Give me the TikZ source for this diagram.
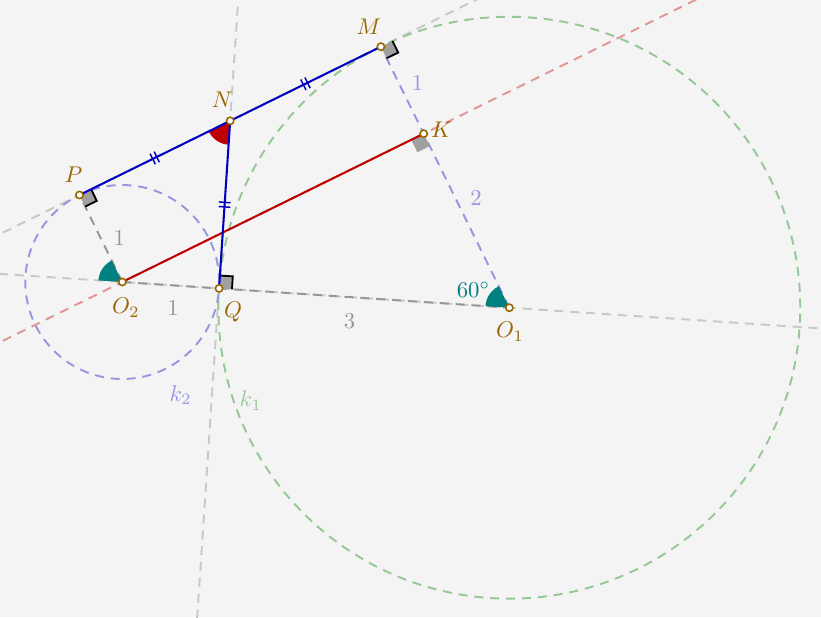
\documentclass[tikz,border=0pt]{standalone}
\usepackage{tikz}
\usetikzlibrary{calc,angles,decorations.markings}
\definecolor{bgcol}{RGB}{244,244,244}
\definecolor{ptcol}{RGB}{153,102,0}
\definecolor{mydarkblue}{RGB}{0,0,190}
\definecolor{mydarkred}{RGB}{190,0,0}
\definecolor{myteal}{RGB}{0,128,128}
\definecolor{mylav}{RGB}{150,150,225}
\definecolor{mygreen}{RGB}{150,200,150}
\definecolor{lgray}{RGB}{200,200,200}
\definecolor{mgray}{RGB}{150,150,150}
\definecolor{lred}{RGB}{225,150,150}
\definecolor{sqgray}{RGB}{160,160,160}
\newcommand{\rtmark}[4][black]{%
  \coordinate (ra) at ($(#2)!0.2cm!(#3)$);
  \coordinate (rb) at ($(#2)!0.2cm!(#4)$);
  \coordinate (rc) at ($(ra)+(rb)-(#2)$);
  \fill[sqgray] (#2) -- (ra) -- (rc) -- (rb) -- cycle;
  \draw[#1,line width=0.8pt] (ra) -- (rc) -- (rb);}

\begin{document}
\begin{tikzpicture}[x=1.5cm,y=1.5cm,
    dsh/.style={dash pattern=on 4pt off 3pt,line width=0.85pt},
    pt/.style={circle,draw=ptcol,fill=white,line width=0.7pt,inner sep=0pt,minimum size=3.2pt},
    ptlab/.style={text=ptcol},
    dbltick/.style={postaction={decorate},decoration={markings,mark=at position 0.5 with {\draw[mydarkblue,line width=0.65pt] (-1pt,-2.6pt) -- (-1pt,2.6pt) (1pt,-2.6pt) -- (1pt,2.6pt);}}}]
    \useasboundingbox (-1.261,-3.455) rectangle (7.205,2.908);
    \fill[bgcol] (-1.261,-3.455) rectangle (7.205,2.908);
    \clip (-1.261,-3.455) rectangle (7.205,2.908);
    \coordinate (O2) at (0,0);
    \coordinate (O1) at (-3.8:4);
    \coordinate (Q) at (-3.8:1);
    \coordinate (P) at (116.2:1);
    \coordinate (K) at ($(O1)+(116.2:2)$);
    \coordinate (M) at ($(O1)+(116.2:3)$);
    \coordinate (N) at ($(P)!0.5!(M)$);
    \coordinate (W) at ($(O2)!-1!(O1)$);
    \coordinate (Mx) at ($(M)!-1!(P)$);
    % long lines
    \draw[lgray,dsh] ($(O2)!-2!(O1)$) -- ($(O1)!-2!(O2)$);
    \draw[lgray,dsh] ($(N)!-20!(Q)$) -- ($(Q)!-20!(N)$);
    \draw[lgray,dsh] ($(P)!-3!(M)$) -- ($(M)!-3!(P)$);
    \draw[lred,dsh] ($(O2)!-3!(K)$) -- ($(K)!-3!(O2)$);
    % circles
    \draw[mygreen,dsh] (O1) circle (3);
    \draw[mylav,dsh] (O2) circle (1);
    \draw[mgray,dsh] (O2) -- (O1);
    \draw[mgray,dsh] (O2) -- (P);
    \draw[mylav,dsh] (O1) -- (M);
    % angles
    \pic[fill=myteal,angle radius=0.37cm] {angle=K--O1--O2};
    \pic[fill=myteal,angle radius=0.37cm] {angle=P--O2--W};
    \pic[fill=mydarkred,angle radius=0.37cm] {angle=P--N--Q};
    \rtmark{P}{M}{O2}
    \rtmark{M}{Mx}{O1}
    \rtmark{Q}{N}{O1}
    \rtmark[sqgray]{K}{O2}{O1}
    \draw[mydarkred,line width=0.9pt] (O2) -- (K);
    \draw[mydarkblue,line width=0.9pt,dbltick] (P) -- (N);
    \draw[mydarkblue,line width=0.9pt,dbltick] (N) -- (M);
    \draw[mydarkblue,line width=0.9pt,dbltick] (N) -- (Q);
    \foreach \p in {O1,O2,P,N,M,K,Q}
        \node[pt] (p\p) at (\p) {};
    % labels
    \node[ptlab] (lP) at ($(P)+(-2.6pt,8.8pt)$) {$P$};
    \node[ptlab] (lN) at ($(N)+(-3.5pt,9.1pt)$) {$N$};
    \node[ptlab] (lM) at ($(M)+(-5.3pt,8.8pt)$) {$M$};
    \node[ptlab] (lK) at ($(K)+(7.9pt,1.6pt)$) {$K$};
    \node[ptlab] (lO2) at ($(O2)+(1.6pt,-11.4pt)$) {$O_2$};
    \node[ptlab] (lQ) at ($(Q)+(6.2pt,-10.2pt)$) {$Q$};
    \node[ptlab] (lO1) at ($(O1)+(0.3pt,-10.6pt)$) {$O_1$};
    \node[text=myteal] (l60) at ($(O1)+(-15.8pt,7.8pt)$) {$60^\circ$};
    \node[text=mgray] (lr2) at ($($(O2)!0.5!(P)$)+(8.1pt,0.3pt)$) {$1$};
    \node[text=mgray] (lOQ) at ($($(O2)!0.5!(Q)$)+(1.1pt,-10.2pt)$) {$1$};
    \node[text=mgray] (lQO) at ($($(Q)!0.45!(O1)$)+(0pt,-10.4pt)$) {$3$};
    \node[text=mylav] (lKM) at ($($(K)!0.5!(M)$)+(6.7pt,3pt)$) {$1$};
    \node[text=mylav] (lOK) at ($($(O1)!0.63!(K)$)+(9.1pt,0pt)$) {$2$};
    \node[text=mylav] (lk2) at ($(O2)+(0.602,-1.165)$) {$k_2$};
    \node[text=mygreen] (lk1) at ($(O1)+(-2.667,-0.959)$) {$k_1$};
\end{tikzpicture}
\end{document}
